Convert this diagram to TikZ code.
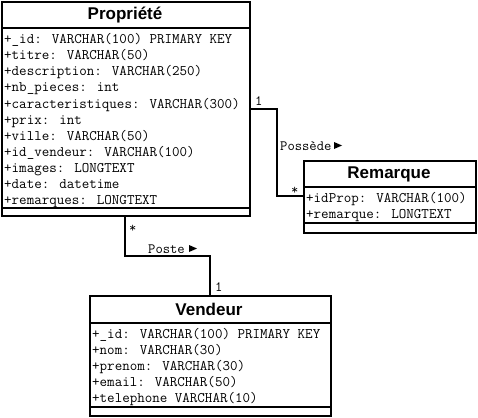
\documentclass[tikz,border=0pt]{standalone}
\usepackage{fontspec}
\setmainfont{Liberation Sans}
\newfontfamily\attrfont{Latin Modern Mono}
\newfontfamily\titlefont{Liberation Sans}
\begin{document}
\begin{tikzpicture}[x=1pt,y=-1pt,
  cls/.style={draw, line width=2pt, rectangle, inner sep=0pt, anchor=north west},
  ttl/.style={font=\titlefont\fontsize{17}{18}\selectfont\bfseries, inner sep=0pt},
  attr/.style={font=\attrfont\fontsize{14.6}{16}\selectfont, inner sep=0pt, anchor=base west},
  lbl/.style={font=\attrfont\fontsize{14.2}{16}\selectfont, inner sep=0pt, anchor=base west},
  conn/.style={line width=2pt},
  sep/.style={line width=2pt},
  tri/.style={fill=black}
]
\useasboundingbox (0,0) rectangle (478,417);
% Propriete
\node[cls, minimum width=248, minimum height=214] (prop) at (1,1) {};
\node[ttl] (propt) at (125,15) {Propriété};
\draw[sep] (1,28) -- (249,28);
\draw[sep] (1,208) -- (249,208);
\foreach \t [count=\i] in {+\_id: VARCHAR(100) PRIMARY KEY, +titre: VARCHAR(50), +description: VARCHAR(250), +nb\_pieces: int, +caracteristiques: VARCHAR(300), +prix: int, +ville: VARCHAR(50), +id\_vendeur: VARCHAR(100), +images: LONGTEXT, +date: datetime, +remarques: LONGTEXT}
  \node[attr] (pa\i) at (4,{44+16*(\i-1)}) {\t};
% Remarque
\node[cls, minimum width=172, minimum height=72] (rem) at (303,160) {};
\node[ttl] (remt) at (389,174) {Remarque};
\draw[sep] (303,187) -- (475,187);
\draw[sep] (303,223) -- (475,223);
\node[attr] (ra1) at (306,202) {+idProp: VARCHAR(100)};
\node[attr] (ra2) at (306,218) {+remarque: LONGTEXT};
% Vendeur
\node[cls, minimum width=241, minimum height=120] (vend) at (89,295) {};
\node[ttl] (vendt) at (209,309) {Vendeur};
\draw[sep] (89,323) -- (330,323);
\draw[sep] (89,407) -- (330,407);
\foreach \t [count=\i] in {+\_id: VARCHAR(100) PRIMARY KEY, +nom: VARCHAR(30), +prenom: VARCHAR(30), +email: VARCHAR(50), +telephone VARCHAR(10)}
  \node[attr] (va\i) at (92,{338+16*(\i-1)}) {\t};
% Possede connector
\coordinate (pc1) at (277,109);
\coordinate (pc2) at (277,196);
\draw[conn] (prop.east |- pc1) -- (pc1) -- (pc2) -- (rem.west |- pc2);
\node[lbl] (one1) at (255,106) {1};
\node[lbl] (star1) at (291,194) {*};
\node[lbl] (possede) at (280,150) {Possède};
\fill[tri] (334,142) -- (342,145.5) -- (334,149) -- cycle;
% Poste connector
\coordinate (vc1) at (125,256);
\coordinate (vc2) at (210,256);
\draw[conn] (vc1 |- prop.south) -- (vc1) -- (vc2) -- (vc2 |- vend.north);
\node[lbl] (star2) at (129,232) {*};
\node[lbl] (poste) at (148,253) {Poste};
\fill[tri] (189,245) -- (197,248.5) -- (189,252) -- cycle;
\node[lbl] (one2) at (215,291) {1};
\end{tikzpicture}
\end{document}
